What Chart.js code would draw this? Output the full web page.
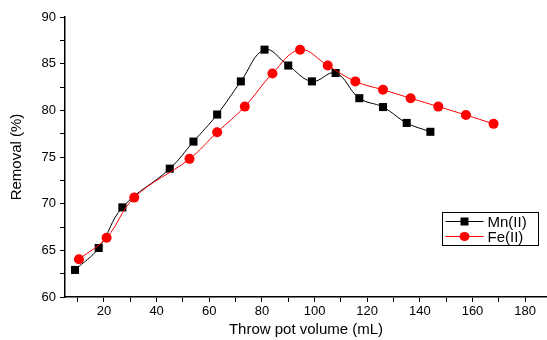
<!DOCTYPE html>
<html>
<head>
<meta charset="utf-8">
<script src="https://cdn.jsdelivr.net/npm/chart.js@4"></script>
<style>
  html, body { margin: 0; padding: 0; background: #fff; }
  #wrap { width: 547px; height: 340px; }
</style>
</head>
<body>
<div id="wrap"><canvas id="removalChart" width="547" height="340"></canvas></div>
<script>
// volumes (mL) and removal (%)
var mnVolume = [9, 18, 27, 45, 54, 63, 72, 81, 90, 99, 108, 117, 126, 135, 144];
var mnRemoval = [62.9, 65.25, 69.6, 73.75, 76.65, 79.55, 83.1, 86.5, 84.8, 83.1, 84.0, 81.3, 80.35, 78.65, 77.7];
var feVolume = [10.5, 21, 31.5, 52.5, 63, 73.5, 84, 94.5, 105, 115.5, 126, 136.5, 147, 157.5, 168];
var feRemoval = [64.05, 66.35, 70.65, 74.8, 77.65, 80.4, 83.95, 86.5, 84.8, 83.1, 82.2, 81.3, 80.4, 79.5, 78.55];

var seriesNames = ['Mn(II)', 'Fe(II)'];
var xTicks = [10, 20, 30, 40, 50, 60, 70, 80, 90, 100, 110, 120, 130, 140, 150, 160, 170, 180];
var yTicks = [60, 62.5, 65, 67.5, 70, 72.5, 75, 77.5, 80, 82.5, 85, 87.5, 90];

function toPoints(xs, ys) {
  return xs.map(function (x, i) { return { x: x, y: ys[i] }; });
}

var fontFamily = '"Liberation Sans", Arial, sans-serif';

// legend box with line + marker, like the original plot
var boxLegend = {
  id: 'boxLegend',
  afterDraw: function (chart) {
    var ctx = chart.ctx;
    var left = 442.5, top = 212.5, w = 96, h = 33;
    ctx.save();
    ctx.strokeStyle = '#000';
    ctx.lineWidth = 1;
    ctx.strokeRect(left, top, w, h);
    ctx.font = '15px ' + fontFamily;
    ctx.textBaseline = 'middle';
    chart.data.datasets.forEach(function (ds, i) {
      var y = top + 9 + i * 15;
      ctx.strokeStyle = ds.borderColor;
      ctx.beginPath();
      ctx.moveTo(left + 3, y);
      ctx.lineTo(left + 41, y);
      ctx.stroke();
      ctx.fillStyle = ds.pointBackgroundColor;
      ctx.beginPath();
      if (ds.pointStyle === 'rect') {
        ctx.rect(left + 18, y - 4, 8, 8);
      } else {
        ctx.ellipse(left + 22, y, 5, 4.5, 0, 0, Math.PI * 2);
      }
      ctx.fill();
      ctx.fillStyle = '#000';
      ctx.fillText(ds.label, left + 45, y + 1);
    });
    ctx.restore();
  }
};

var ctx = document.getElementById('removalChart').getContext('2d');
var removalChart = new Chart(ctx, {
  type: 'line',
  data: {
    datasets: [{
      label: seriesNames[0],
      data: toPoints(mnVolume, mnRemoval),
      borderColor: '#000',
      borderWidth: 1,
      pointStyle: 'rect',
      pointRadius: 5.7,
      pointBackgroundColor: '#000',
      pointBorderColor: '#000',
      pointBorderWidth: 0,
      tension: 0.4,
      order: 2
    }, {
      label: seriesNames[1],
      data: toPoints(feVolume, feRemoval),
      borderColor: '#ff0000',
      borderWidth: 1,
      pointStyle: 'circle',
      pointRadius: 5,
      pointBackgroundColor: '#ff0000',
      pointBorderColor: '#ff0000',
      pointBorderWidth: 0,
      tension: 0.4,
      order: 1
    }]
  },
  options: {
    responsive: false,
    animation: false,
    layout: { autoPadding: false, padding: { left: 0, right: 0, top: 17, bottom: 0 } },
    plugins: {
      legend: { display: false },
      tooltip: { enabled: false }
    },
    scales: {
      x: {
        type: 'linear',
        min: 5.2,
        max: 188.3,
        afterBuildTicks: function (scale) {
          scale.ticks = xTicks.map(function (v) { return { value: v }; });
        },
        afterFit: function (scale) {
          scale.height = 43;
          scale.paddingLeft = 0;
          scale.paddingRight = 0;
        },
        grid: { drawOnChartArea: false, drawTicks: true, tickLength: 5, color: '#000', lineWidth: 1 },
        border: { display: true, color: '#000', width: 1.5 },
        ticks: {
          color: '#000',
          font: { family: fontFamily, size: 13 },
          padding: 2,
          maxRotation: 0,
          autoSkip: false,
          callback: function (v) { return v % 20 === 0 ? v : ''; }
        },
        title: {
          display: true,
          text: 'Throw pot volume (mL)',
          color: '#000',
          font: { family: fontFamily, size: 15 },
          padding: { top: 0, bottom: 1 }
        }
      },
      y: {
        min: 60,
        max: 90,
        afterBuildTicks: function (scale) {
          scale.ticks = yTicks.map(function (v) { return { value: v }; });
        },
        afterFit: function (scale) { scale.width = 65; },
        grid: { drawOnChartArea: false, drawTicks: true, tickLength: 5, color: '#000', lineWidth: 1 },
        border: { display: true, color: '#000', width: 1.5 },
        ticks: {
          color: '#000',
          font: { family: fontFamily, size: 13 },
          padding: 4,
          autoSkip: false,
          callback: function (v) { return v % 5 === 0 ? v : ''; }
        },
        title: {
          display: true,
          text: 'Removal (%)',
          color: '#000',
          font: { family: fontFamily, size: 15 },
          padding: { top: 8, bottom: 0 }
        }
      }
    }
  },
  plugins: [boxLegend]
});
</script>
</body>
</html>
